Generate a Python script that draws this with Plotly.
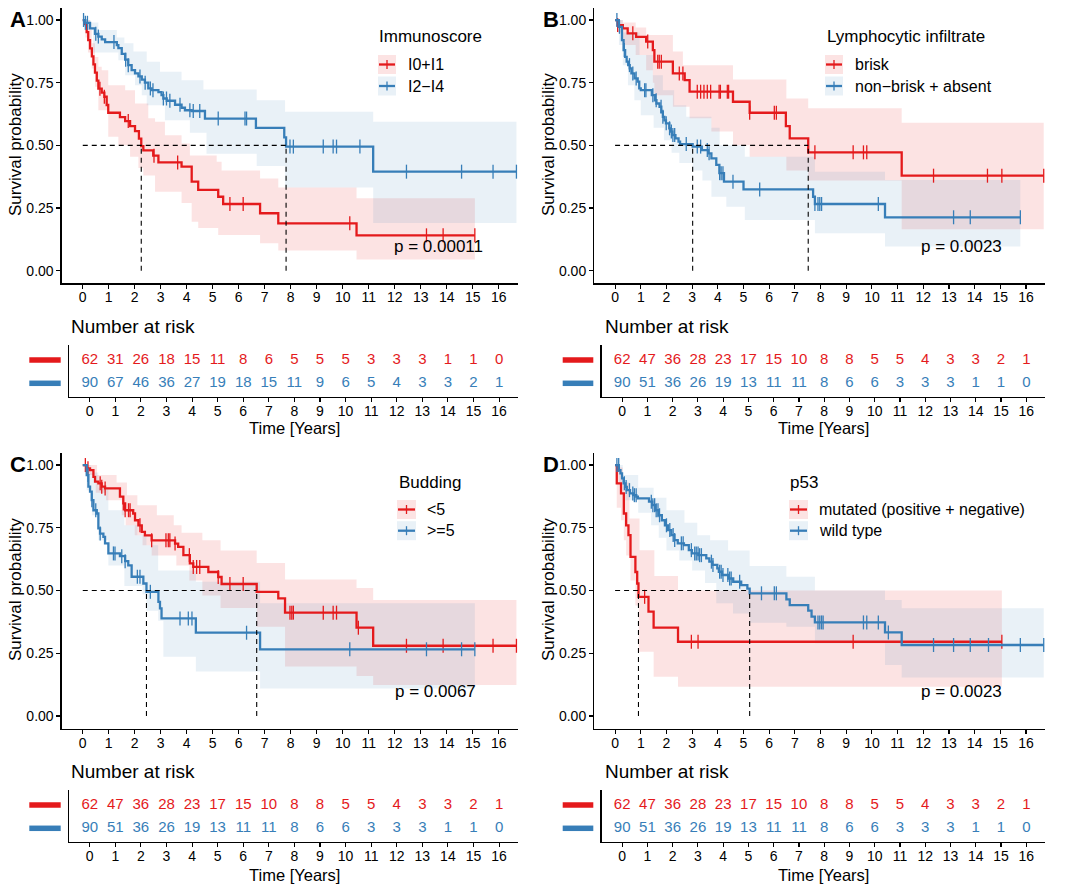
import plotly.graph_objects as go

W, H = 1068, 890
FONT = "Liberation Sans, Arial, Helvetica, sans-serif"
RED = "#E41A1C"
BLUE = "#377EB8"
RED_FILL = "rgba(228,26,28,0.12)"
BLUE_FILL = "rgba(55,126,184,0.11)"

YEARS = list(range(17))
Y_TICKS = [0, 0.25, 0.5, 0.75, 1.0]
Y_TICK_TEXT = ["0.00", "0.25", "0.50", "0.75", "1.00"]

# ---------------- Panel A : Immunoscore ----------------
A_red_t = [0, 0.06, 0.15, 0.21, 0.28, 0.35, 0.41, 0.47, 0.54, 0.60, 0.73, 0.83, 0.92, 0.98, 1.43, 1.63,
           1.82, 2.01, 2.16, 2.25, 2.33, 2.71, 2.91, 3.80, 4.19, 4.44, 5.21, 5.40, 6.82, 7.52, 10.53, 15.08]
A_red_s = [1.0, 0.984, 0.952, 0.92, 0.887, 0.855, 0.823, 0.79, 0.758, 0.726, 0.71, 0.694, 0.661, 0.63, 0.613,
           0.597, 0.577, 0.557, 0.527, 0.497, 0.48, 0.459, 0.432, 0.415, 0.355, 0.322, 0.295, 0.266, 0.229,
           0.189, 0.141, 0.141]
A_red_cens = [0.66, 0.83, 1.75, 2.74, 3.65, 5.66, 6.17, 10.27, 13.22, 13.86, 15.08]
A_red_up_t = [0, 0.28, 0.345, 0.47, 0.6, 0.73, 0.98, 1.63, 2.01, 2.52, 2.78, 3.16, 3.8, 4.12, 5.15, 5.34,
              6.82, 7.52, 10.53, 15.08]
A_red_up = [1.0, 0.96, 0.907, 0.853, 0.814, 0.8, 0.74, 0.72, 0.667, 0.608, 0.594, 0.54, 0.507, 0.46, 0.435,
            0.40, 0.368, 0.332, 0.289, 0.289]
A_red_lo_t = [0, 0.1, 0.2, 0.345, 0.47, 0.6, 0.98, 1.37, 1.82, 2.14, 2.33, 2.78, 3.8, 4.19, 4.44, 5.21,
              6.82, 7.52, 10.53, 15.08]
A_red_lo = [1.0, 0.93, 0.87, 0.807, 0.734, 0.64, 0.534, 0.50, 0.455, 0.41, 0.38, 0.315, 0.27, 0.195, 0.17,
            0.142, 0.109, 0.08, 0.045, 0.045]

A_blue_t = [0, 0.1, 0.28, 0.47, 0.6, 0.73, 0.86, 1.31, 1.37, 1.5, 1.63, 1.75, 1.88, 2.01, 2.14, 2.27, 2.39,
            2.52, 2.65, 2.91, 3.03, 3.1, 3.23, 3.55, 3.8, 3.93, 4.19, 4.7, 6.66, 7.75, 7.82, 11.17, 16.68]
A_blue_s = [1.0, 0.989, 0.967, 0.945, 0.934, 0.923, 0.912, 0.9, 0.888, 0.865, 0.842, 0.82, 0.80, 0.787,
            0.775, 0.762, 0.75, 0.727, 0.72, 0.712, 0.70, 0.687, 0.678, 0.662, 0.65, 0.64, 0.637, 0.607,
            0.57, 0.532, 0.495, 0.395, 0.395]
A_blue_cens = [0.03, 0.1, 0.18, 0.5, 0.6, 1.2, 1.65, 1.75, 2.2, 2.4, 2.6, 2.7, 3.1, 3.22, 3.35, 3.74, 4.12,
               4.25, 4.5, 5.21, 6.24, 6.3, 7.97, 8.1, 9.25, 9.63, 9.76, 10.66, 12.45, 14.57, 15.78, 16.68]
A_blue_up_t = [0, 0.3, 0.6, 1.31, 1.6, 1.95, 2.46, 2.97, 3.8, 4.64, 6.69, 7.78, 11.17, 16.68]
A_blue_up = [1.0, 0.99, 0.96, 0.93, 0.907, 0.874, 0.834, 0.794, 0.76, 0.723, 0.68, 0.634, 0.594, 0.594]
A_blue_lo_t = [0, 0.1, 0.4, 1.37, 1.63, 2.01, 2.27, 2.46, 3.16, 4.12, 4.76, 6.69, 7.78, 11.17, 16.68]
A_blue_lo = [1.0, 0.96, 0.87, 0.84, 0.78, 0.74, 0.70, 0.66, 0.60, 0.55, 0.466, 0.418, 0.332, 0.19, 0.19]

A_red_risk = [62, 31, 26, 18, 15, 11, 8, 6, 5, 5, 5, 3, 3, 3, 1, 1, 0]
A_blue_risk = [90, 67, 46, 36, 27, 19, 18, 15, 11, 9, 6, 5, 4, 3, 3, 2, 1]

# ---------------- Panel B : Lymphocytic infiltrate ----------------
B_red_t = [0, 0.1, 0.3, 0.49, 0.82, 1.21, 1.47, 1.53, 2.25, 2.71, 2.9, 4.59, 5.24, 6.65, 6.8, 7.52, 11.16, 16.69]
B_red_s = [1.0, 0.98, 0.967, 0.947, 0.933, 0.914, 0.88, 0.834, 0.787, 0.76, 0.714, 0.674, 0.63, 0.577,
           0.528, 0.472, 0.379, 0.379]
B_red_cens = [0.1, 0.69, 1.27, 1.66, 1.72, 1.8, 2.5, 2.64, 3.2, 3.33, 3.46, 3.59, 3.72, 4.05, 4.1, 4.37, 4.42,
              5.24, 6.2, 6.28, 7.78, 9.27, 9.67, 9.8, 12.4, 14.5, 15.06, 16.69]
B_red_up_t = [0, 0.3, 0.8, 1.21, 2.25, 2.64, 4.59, 6.67, 7.52, 11.16, 16.69]
B_red_up = [1.0, 0.99, 0.97, 0.94, 0.874, 0.82, 0.763, 0.687, 0.648, 0.59, 0.59]
B_red_lo_t = [0, 0.1, 0.3, 0.8, 1.21, 1.47, 1.53, 2.25, 2.9, 3.75, 4.59, 5.24, 6.67, 7.52, 11.16, 16.69]
B_red_lo = [1.0, 0.95, 0.9, 0.86, 0.8, 0.75, 0.70, 0.654, 0.608, 0.555, 0.50, 0.455, 0.40, 0.36, 0.165, 0.165]

B_blue_t = [0, 0.146, 0.268, 0.33, 0.39, 0.45, 0.51, 0.57, 0.635, 0.757, 0.88, 0.94, 1.0, 1.43, 1.55, 1.61,
            1.73, 1.80, 1.86, 1.92, 1.98, 2.11, 2.16, 2.23, 2.35, 2.47, 2.53, 3.02, 3.38, 3.63, 3.75, 3.94,
            4.06, 4.24, 5.0, 7.71, 7.78, 10.51, 15.78]
B_blue_s = [1.0, 0.973, 0.92, 0.88, 0.853, 0.834, 0.82, 0.807, 0.787, 0.767, 0.754, 0.727, 0.72, 0.70, 0.68,
            0.667, 0.654, 0.634, 0.614, 0.60, 0.588, 0.568, 0.555, 0.541, 0.528, 0.515, 0.505, 0.495, 0.481,
            0.468, 0.448, 0.422, 0.389, 0.355, 0.324, 0.295, 0.266, 0.213, 0.213]
B_blue_cens = [0.07, 0.17, 0.36, 0.56, 0.69, 0.82, 1.15, 1.2, 1.47, 1.6, 1.79, 1.86, 1.99, 2.12, 2.19, 2.25,
               2.32, 2.77, 3.2, 3.33, 3.59, 3.66, 4.07, 4.13, 4.2, 4.59, 5.63, 7.78, 7.9, 7.97, 8.04, 10.25,
               13.18, 13.83, 15.78]
B_blue_up_t = [0, 0.3, 0.95, 1.47, 1.86, 2.3, 2.77, 3.75, 4.07, 5.05, 7.78, 10.51, 15.78]
B_blue_up = [1.0, 0.95, 0.86, 0.78, 0.72, 0.66, 0.614, 0.57, 0.50, 0.455, 0.395, 0.362, 0.362]
B_blue_lo_t = [0, 0.15, 0.3, 0.5, 0.75, 1.0, 1.5, 1.9, 2.2, 2.5, 3.02, 3.4, 3.75, 4.33, 5.05, 7.78, 10.51, 15.78]
B_blue_lo = [1.0, 0.90, 0.82, 0.74, 0.68, 0.62, 0.57, 0.52, 0.47, 0.43, 0.40, 0.36, 0.295, 0.255, 0.202,
             0.149, 0.096, 0.096]

B_red_risk = [62, 47, 36, 28, 23, 17, 15, 10, 8, 8, 5, 5, 4, 3, 3, 2, 1]
B_blue_risk = [90, 51, 36, 26, 19, 13, 11, 11, 8, 6, 6, 3, 3, 3, 1, 1, 0]

# ---------------- Panel C : Budding ----------------
C_red_t = [0, 0.152, 0.28, 0.41, 0.473, 0.6, 0.73, 0.857, 1.43, 1.56, 1.63, 1.94, 2.01, 2.14, 2.27, 2.39, 2.65,
           3.55, 3.67, 3.87, 4.12, 4.25, 4.83, 5.21, 5.34, 6.69, 7.52, 7.78, 10.53, 11.17, 16.68]
C_red_s = [1.0, 0.987, 0.98, 0.953, 0.934, 0.927, 0.914, 0.907, 0.874, 0.847, 0.82, 0.807, 0.78, 0.76, 0.734,
           0.72, 0.70, 0.687, 0.674, 0.641, 0.608, 0.594, 0.574, 0.554, 0.526, 0.495, 0.469, 0.412, 0.352,
           0.28, 0.28]
C_red_cens = [0.1, 0.2, 0.67, 0.73, 0.86, 1.56, 1.63, 1.76, 1.82, 2.2, 2.65, 3.2, 3.29, 3.35, 3.55, 4.1, 4.25,
              4.38, 4.5, 5.21, 5.66, 6.17, 7.97, 8.04, 8.1, 9.25, 9.63, 9.76, 10.6, 12.45, 13.86, 15.78, 16.68]
C_red_up_t = [0, 0.55, 1.3, 1.7, 2.1, 2.85, 3.5, 3.8, 4.6, 5.3, 6.69, 7.78, 10.53, 11.17, 16.68]
C_red_up = [1.0, 0.96, 0.93, 0.88, 0.84, 0.80, 0.76, 0.73, 0.70, 0.66, 0.61, 0.544, 0.51, 0.462, 0.462]
C_red_lo_t = [0, 0.2, 0.5, 0.9, 1.5, 1.65, 2.0, 2.3, 2.65, 3.6, 4.1, 4.6, 5.3, 6.69, 7.78, 10.53, 11.17, 16.68]
C_red_lo = [1.0, 0.96, 0.89, 0.86, 0.80, 0.76, 0.72, 0.68, 0.64, 0.60, 0.54, 0.48, 0.43, 0.356, 0.197, 0.16,
            0.124, 0.124]

C_blue_t = [0, 0.152, 0.217, 0.28, 0.345, 0.41, 0.54, 0.6, 0.665, 0.793, 0.857, 0.985, 1.43, 1.63, 1.75,
            1.88, 2.33, 2.45, 2.91, 2.97, 3.03, 4.35, 6.82, 15.08]
C_blue_s = [1.0, 0.96, 0.914, 0.894, 0.86, 0.82, 0.807, 0.748, 0.727, 0.714, 0.688, 0.648, 0.637, 0.617, 0.60,
            0.555, 0.528, 0.495, 0.455, 0.429, 0.389, 0.332, 0.266, 0.266]
C_blue_cens = [0.2, 0.35, 0.5, 0.67, 1.18, 1.24, 1.5, 1.63, 2.1, 2.2, 2.6, 3.74, 4.06, 4.2, 6.3, 10.27, 13.22,
               14.57, 15.08]
C_blue_up_t = [0, 0.3, 0.6, 0.985, 1.6, 2.1, 2.45, 2.9, 4.35, 6.82, 15.08]
C_blue_up = [1.0, 0.97, 0.91, 0.82, 0.76, 0.72, 0.68, 0.58, 0.535, 0.449, 0.449]
C_blue_lo_t = [0, 0.15, 0.35, 0.6, 0.985, 1.6, 2.3, 2.45, 2.9, 3.1, 4.35, 6.82, 15.08]
C_blue_lo = [1.0, 0.90, 0.80, 0.70, 0.60, 0.518, 0.485, 0.42, 0.38, 0.236, 0.177, 0.11, 0.11]

C_red_risk = [62, 47, 36, 28, 23, 17, 15, 10, 8, 8, 5, 5, 4, 3, 3, 2, 1]
C_blue_risk = [90, 51, 36, 26, 19, 13, 11, 11, 8, 6, 6, 3, 3, 3, 1, 1, 0]

# ---------------- Panel D : p53 ----------------
D_red_t = [0, 0.065, 0.23, 0.34, 0.43, 0.52, 0.6, 0.79, 0.86, 0.91, 1.30, 1.50, 2.45, 15.06]
D_red_s = [1.0, 0.927, 0.887, 0.807, 0.76, 0.721, 0.634, 0.574, 0.528, 0.475, 0.416, 0.352, 0.296, 0.296]
D_red_cens = [1.15, 2.97, 3.23, 9.27, 15.06]
D_red_up_t = [0, 0.1, 0.3, 0.56, 0.95, 1.53, 2.45, 15.06]
D_red_up = [1.0, 0.99, 0.93, 0.787, 0.661, 0.558, 0.50, 0.50]
D_red_lo_t = [0, 0.065, 0.23, 0.34, 0.43, 0.6, 0.79, 0.92, 1.5, 2.45, 15.06]
D_red_lo = [1.0, 0.83, 0.78, 0.70, 0.64, 0.54, 0.44, 0.256, 0.157, 0.117, 0.117]

D_blue_t = [0, 0.147, 0.209, 0.27, 0.332, 0.394, 0.456, 0.58, 0.70, 0.826, 0.888, 1.32, 1.445, 1.57, 1.69,
            1.82, 1.94, 2.06, 2.19, 2.31, 2.44, 2.68, 2.87, 2.99, 3.24, 3.55, 3.67, 3.79, 3.98, 4.04, 4.16,
            4.41, 4.60, 4.91, 5.15, 5.24, 6.67, 6.8, 7.52, 7.65, 7.78, 10.51, 11.16, 16.69]
D_blue_s = [1.0, 0.98, 0.967, 0.947, 0.927, 0.913, 0.9, 0.887, 0.88, 0.874, 0.867, 0.854, 0.84, 0.82, 0.80,
            0.78, 0.76, 0.741, 0.721, 0.701, 0.688, 0.681, 0.661, 0.648, 0.641, 0.628, 0.615, 0.602, 0.588,
            0.575, 0.562, 0.548, 0.535, 0.522, 0.508, 0.489, 0.465, 0.442, 0.42, 0.396, 0.373, 0.333, 0.283,
            0.283]
D_blue_cens = [0.07, 0.14, 0.36, 0.43, 0.56, 0.69, 0.75, 0.82, 1.41, 1.47, 1.54, 1.6, 1.67, 1.73, 2.0, 2.13,
               2.26, 2.32, 2.58, 2.65, 2.97, 3.1, 3.16, 3.23, 3.29, 3.36, 3.75, 3.81, 4.07, 4.13, 4.2, 4.39,
               4.46, 4.52, 4.85, 5.7, 6.2, 6.28, 7.9, 7.97, 8.04, 8.1, 9.67, 9.8, 10.25, 10.64, 12.4, 13.18,
               13.83, 14.54, 15.78, 16.69]
D_blue_up_t = [0, 0.3, 0.9, 1.5, 2.0, 2.7, 3.2, 3.7, 4.4, 5.24, 6.67, 7.78, 10.51, 11.16, 16.69]
D_blue_up = [1.0, 0.96, 0.91, 0.87, 0.82, 0.77, 0.72, 0.70, 0.66, 0.598, 0.555, 0.50, 0.462, 0.429, 0.429]
D_blue_lo_t = [0, 0.15, 0.4, 0.9, 1.4, 1.7, 2.0, 2.5, 3.0, 3.5, 3.94, 4.59, 5.24, 6.67, 7.78, 10.51, 11.16, 16.69]
D_blue_lo = [1.0, 0.93, 0.86, 0.81, 0.76, 0.71, 0.66, 0.62, 0.58, 0.53, 0.449, 0.409, 0.372, 0.356, 0.29,
             0.203, 0.154, 0.154]

D_red_risk = [62, 47, 36, 28, 23, 17, 15, 10, 8, 8, 5, 5, 4, 3, 3, 2, 1]
D_blue_risk = [90, 51, 36, 26, 19, 13, 11, 11, 8, 6, 6, 3, 3, 3, 1, 1, 0]

# ---------------- layout geometry (pixels) ----------------
XR = [-0.81, 16.74]
YR = [-0.05, 1.05]
TYR = [0.404, 2.652]
PLOT_X = {"L": (61.7, 518), "R": (594.3, 1045)}
TABLE_X = {"L": (69, 518), "R": (601.7, 1045)}
PLOT_Y = {"T": (7.5, 283.2), "B": (452.5, 728.6)}
TABLE_Y = {"T": (345, 396.7), "B": (790, 841.7)}

PANELS = [
    dict(pid=1, tid=5, col="L", row="T", letter="A", title="Immunoscore", labels=["I0+I1", "I2\u2212I4"],
         p="p = 0.00011", p_at=(13.7, 0.097),
         curves=[(A_red_t, A_red_s, A_red_cens, A_red_up_t, A_red_up, A_red_lo_t, A_red_lo),
                 (A_blue_t, A_blue_s, A_blue_cens, A_blue_up_t, A_blue_up, A_blue_lo_t, A_blue_lo)],
         risk=(A_red_risk, A_blue_risk),
         leg=dict(title=(377, 37), box=(378, 396), rows=(64.5, 86), lab=406)),
    dict(pid=2, tid=6, col="R", row="T", letter="B", title="Lymphocytic infiltrate",
         labels=["brisk", "non\u2212brisk + absent"], p="p = 0.0023", p_at=(13.5, 0.097),
         curves=[(B_red_t, B_red_s, B_red_cens, B_red_up_t, B_red_up, B_red_lo_t, B_red_lo),
                 (B_blue_t, B_blue_s, B_blue_cens, B_blue_up_t, B_blue_up, B_blue_lo_t, B_blue_lo)],
         risk=(B_red_risk, B_blue_risk),
         leg=dict(title=(825, 37), box=(825, 843), rows=(64.5, 86), lab=853)),
    dict(pid=3, tid=7, col="L", row="B", letter="C", title="Budding", labels=["<5", ">=5"],
         p="p = 0.0067", p_at=(13.55, 0.097),
         curves=[(C_red_t, C_red_s, C_red_cens, C_red_up_t, C_red_up, C_red_lo_t, C_red_lo),
                 (C_blue_t, C_blue_s, C_blue_cens, C_blue_up_t, C_blue_up, C_blue_lo_t, C_blue_lo)],
         risk=(C_red_risk, C_blue_risk),
         leg=dict(title=(397, 482.7), box=(397, 416), rows=(509.5, 530.7), lab=425)),
    dict(pid=4, tid=8, col="R", row="B", letter="D", title="p53",
         labels=["mutated (positive + negative)", "wild type"], p="p = 0.0023", p_at=(13.5, 0.097),
         curves=[(D_red_t, D_red_s, D_red_cens, D_red_up_t, D_red_up, D_red_lo_t, D_red_lo),
                 (D_blue_t, D_blue_s, D_blue_cens, D_blue_up_t, D_blue_up, D_blue_lo_t, D_blue_lo)],
         risk=(D_red_risk, D_blue_risk),
         leg=dict(title=(788, 482.7), box=(789, 808), rows=(509.5, 530.7), lab=817)),
]


def px(x):
    return x / W


def py(y):
    return 1 - y / H


def step_at(ts, ss, t):
    v = ss[0]
    for ti, si in zip(ts, ss):
        if ti <= t + 1e-9:
            v = si
        else:
            break
    return v


def step_points(ts, vs):
    xs, ys = [], []
    for i, (t, v) in enumerate(zip(ts, vs)):
        xs.append(t)
        ys.append(v)
        if i + 1 < len(ts):
            xs.append(ts[i + 1])
            ys.append(v)
    return xs, ys


def median_time(ts, ss):
    for t, s in zip(ts, ss):
        if s <= 0.5:
            return t
    return None


def ax(k):
    return ("x", "y") if k == 1 else (f"x{k}", f"y{k}")


def axkey(k):
    return ("xaxis", "yaxis") if k == 1 else (f"xaxis{k}", f"yaxis{k}")


fig = go.Figure()
shapes = []
annotations = []
layout_axes = {}
COLORS = [RED, BLUE]
FILLS = [RED_FILL, BLUE_FILL]

for P in PANELS:
    xr, yr = ax(P["pid"])
    txr, tyr = ax(P["tid"])
    # bands
    for (t, s, c, ut, uv, lt, lv), fc in zip(P["curves"], FILLS):
        ux, uy = step_points(ut, uv)
        lx, ly = step_points(lt, lv)
        fig.add_trace(go.Scatter(x=ux + lx[::-1], y=uy + ly[::-1], fill="toself", fillcolor=fc,
                                 line=dict(width=0), mode="lines", hoverinfo="skip",
                                 showlegend=False, xaxis=xr, yaxis=yr))
    # survival curves and censoring ticks
    for (t, s, c, ut, uv, lt, lv), col in zip(P["curves"], COLORS):
        fig.add_trace(go.Scatter(x=t, y=s, mode="lines", line=dict(color=col, width=2.3, shape="hv"),
                                 showlegend=False, xaxis=xr, yaxis=yr, cliponaxis=False))
        fig.add_trace(go.Scatter(x=c, y=[step_at(t, s, ci) for ci in c], mode="markers",
                                 marker=dict(symbol="line-ns", size=10, line=dict(color=col, width=1.3)),
                                 showlegend=False, xaxis=xr, yaxis=yr, cliponaxis=False))
    # median lines
    meds = [median_time(cv[0], cv[1]) for cv in P["curves"]]
    dash = "5px,4px"
    fig.add_trace(go.Scatter(x=[0, max(meds)], y=[0.5, 0.5], mode="lines",
                             line=dict(color="black", width=1.1, dash=dash),
                             showlegend=False, xaxis=xr, yaxis=yr))
    for m in meds:
        fig.add_trace(go.Scatter(x=[m, m], y=[0, 0.5], mode="lines",
                                 line=dict(color="black", width=1.1, dash=dash),
                                 showlegend=False, xaxis=xr, yaxis=yr))
    # risk table numbers
    for rv, yv, col in zip(P["risk"], [2, 1], COLORS):
        fig.add_trace(go.Scatter(x=YEARS, y=[yv] * len(YEARS), mode="text", text=[str(v) for v in rv],
                                 textfont=dict(color=col, size=15, family=FONT), textposition="middle center",
                                 showlegend=False, xaxis=txr, yaxis=tyr, cliponaxis=False))

    # axes
    pxk, pyk = axkey(P["pid"])
    txk, tyk = axkey(P["tid"])
    x0, x1 = PLOT_X[P["col"]]
    y0, y1 = PLOT_Y[P["row"]]
    tx0, tx1 = TABLE_X[P["col"]]
    ty0, ty1 = TABLE_Y[P["row"]]
    common_x = dict(range=XR, tickmode="array", tickvals=YEARS, ticks="outside", ticklen=4, tickwidth=1.1,
                    tickcolor="black", showline=True, linecolor="black", linewidth=1.3, showgrid=False,
                    zeroline=False, automargin=False, fixedrange=True, ticklabelstandoff=-3,
                    tickfont=dict(size=14, color="black", family=FONT))
    layout_axes[pxk] = dict(common_x, domain=[px(x0), px(x1)], anchor=yr)
    layout_axes[pyk] = dict(domain=[py(y1), py(y0)], anchor=xr, range=YR, tickmode="array",
                            tickvals=Y_TICKS, ticktext=Y_TICK_TEXT, ticks="outside", ticklen=4,
                            tickwidth=1.1, tickcolor="black", showline=True, linecolor="black",
                            linewidth=1.3, showgrid=False, zeroline=False, automargin=False, fixedrange=True,
                            tickfont=dict(size=14, color="black", family=FONT))
    layout_axes[txk] = dict(common_x, domain=[px(tx0), px(tx1)], anchor=tyr)
    layout_axes[tyk] = dict(domain=[py(ty1), py(ty0)], anchor=txr, range=TYR, showticklabels=False,
                            ticks="", showline=True, linecolor="black", linewidth=1.3, showgrid=False,
                            zeroline=False, automargin=False, fixedrange=True)

    # annotations
    lx = 18 if P["col"] == "L" else 551
    ly = 19 if P["row"] == "T" else 464
    annotations.append(dict(x=px(lx), y=py(ly), xref="paper", yref="paper", text=f"<b>{P['letter']}</b>",
                            showarrow=False, font=dict(size=22, color="black", family=FONT),
                            xanchor="center", yanchor="middle"))
    yl_x = 15 if P["col"] == "L" else 548
    yl_y = 145 if P["row"] == "T" else 590
    annotations.append(dict(x=px(yl_x), y=py(yl_y), xref="paper", yref="paper", text="Survival probability",
                            textangle=-90, showarrow=False, font=dict(size=17, color="black", family=FONT),
                            xanchor="center", yanchor="middle"))
    annotations.append(dict(x=P["p_at"][0], y=P["p_at"][1], xref=xr, yref=yr, text=P["p"], showarrow=False,
                            font=dict(size=17, color="black", family=FONT), xanchor="center",
                            yanchor="middle"))
    nr_x = 69.3 if P["col"] == "L" else 602.7
    nr_y = 326.7 if P["row"] == "T" else 771.7
    annotations.append(dict(x=px(nr_x), y=py(nr_y), xref="paper", yref="paper", text="Number at risk",
                            showarrow=False, font=dict(size=19, color="black", family=FONT),
                            xanchor="left", yanchor="middle"))
    tt_x = 294 if P["col"] == "L" else 823
    tt_y = 428 if P["row"] == "T" else 874.5
    annotations.append(dict(x=px(tt_x), y=py(tt_y), xref="paper", yref="paper", text="Time [Years]",
                            showarrow=False, font=dict(size=16.5, color="black", family=FONT),
                            xanchor="center", yanchor="middle"))
    # legend
    L = P["leg"]
    annotations.append(dict(x=px(L["title"][0]), y=py(L["title"][1]), xref="paper", yref="paper",
                            text=P["title"], showarrow=False, font=dict(size=17, color="black", family=FONT),
                            xanchor="left", yanchor="middle"))
    bx0, bx1 = L["box"]
    for rowy, lab, col, fc in zip(L["rows"], P["labels"], COLORS, FILLS):
        shapes.append(dict(type="rect", xref="paper", yref="paper", x0=px(bx0), x1=px(bx1),
                           y0=py(rowy + 9.5), y1=py(rowy - 9.5), fillcolor=fc, line=dict(width=0)))
        shapes.append(dict(type="line", xref="paper", yref="paper", x0=px(bx0 + 1), x1=px(bx1 - 1),
                           y0=py(rowy), y1=py(rowy), line=dict(color=col, width=2.3)))
        cx = (bx0 + bx1) / 2
        shapes.append(dict(type="line", xref="paper", yref="paper", x0=px(cx), x1=px(cx),
                           y0=py(rowy - 4.5), y1=py(rowy + 4.5), line=dict(color=col, width=1.3)))
        annotations.append(dict(x=px(L["lab"]), y=py(rowy), xref="paper", yref="paper", text=lab,
                                showarrow=False, font=dict(size=16, color="black", family=FONT),
                                xanchor="left", yanchor="middle"))
    # risk table colour bars
    rb = (29.3, 60.7) if P["col"] == "L" else (562.7, 593.3)
    rows_px = (360, 383.3) if P["row"] == "T" else (805, 828.3)
    for rowy, col in zip(rows_px, COLORS):
        shapes.append(dict(type="line", xref="paper", yref="paper", x0=px(rb[0]), x1=px(rb[1]),
                           y0=py(rowy), y1=py(rowy), line=dict(color=col, width=5.5)))

fig.update_layout(
    width=W, height=H, margin=dict(l=0, r=0, t=0, b=0, autoexpand=False),
    paper_bgcolor="white", plot_bgcolor="white",
    font=dict(family=FONT, color="black"),
    showlegend=False, shapes=shapes, annotations=annotations,
    **layout_axes,
)

fig.write_html("out.html", config={"displayModeBar": False, "staticPlot": True},
               post_script="document.body.style.margin='0px'; document.body.style.overflow='hidden';")
